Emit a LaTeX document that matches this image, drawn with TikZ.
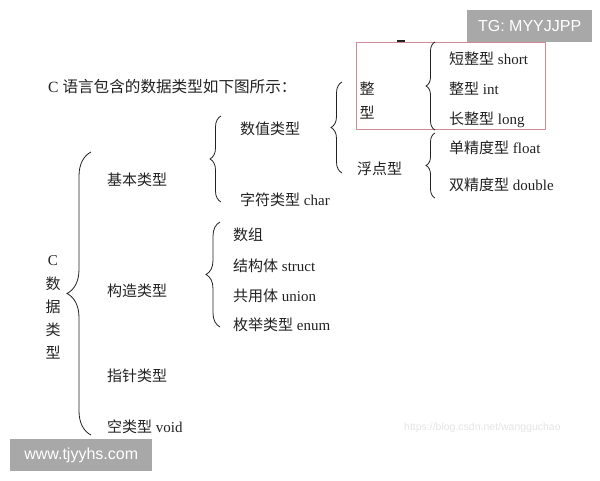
\documentclass[tikz,border=0pt]{standalone}
\usepackage{fontspec}
\setmainfont{Liberation Serif}
\newfontfamily\cjk{Noto Sans CJK SC}
\newfontfamily\wmfont{Liberation Sans}
\usetikzlibrary{decorations.pathreplacing}
\newcommand{\zh}[1]{{\cjk #1}}
\definecolor{ink}{HTML}{222222}
\definecolor{pinkbox}{HTML}{CF8A98}
\definecolor{wmgray}{HTML}{A8A8A8}
\begin{document}
\begin{tikzpicture}[x=1pt,y=-1pt,
  lbl/.style={anchor=west,inner sep=0pt,text=ink,font=\fontsize{15}{15}\selectfont,text height=13.2pt,text depth=1.8pt},
  vch/.style={anchor=center,inner sep=0pt,text=ink,font=\fontsize{15}{15}\selectfont\cjk},
  brc/.style={draw=ink,line width=0.8pt,decorate,decoration={brace,amplitude=#1}},
  brc/.default=10,
  wm/.style={fill=wmgray,text=white,font=\wmfont\fontsize{16}{16}\selectfont,inner sep=0pt,minimum height=32pt}
]
\useasboundingbox (0,0) rectangle (600,480);
\fill[white] (0,0) rectangle (600,480);

% watermark boxes
\node[wm,minimum width=125pt,anchor=north west] (tg) at (467,10) {TG: MYYJJPP};
\node[wm,minimum width=142pt,anchor=north west] (www) at (10,439) {www.tjyyhs.com};
\node[anchor=west,inner sep=0pt,text=black!10,font=\wmfont\fontsize{10.5}{10.5}\selectfont] (csdn) at (404,428) {https://blog.csdn.net/wangguchao};

% title
\node[lbl,font=\fontsize{15.6}{15.6}\selectfont] (title) at (48,87) {C \zh{语言包含的数据类型如下图所示：}};

% root vertical label
\node[vch] (rc) at (53,261) {\normalfont C};
\node[vch] (r1) at (53,284) {数};
\node[vch] (r2) at (53,307) {据};
\node[vch] (r3) at (53,330) {类};
\node[vch] (r4) at (53,353) {型};

% level 1
\node[lbl] (basic) at (107,180) {\zh{基本类型}};
\node[lbl] (constr) at (107,291) {\zh{构造类型}};
\node[lbl] (ptr) at (107,376) {\zh{指针类型}};
\node[lbl] (void) at (107,427) {\zh{空类型} void};

% level 2
\node[lbl] (num) at (240,129) {\zh{数值类型}};
\node[lbl] (char) at (240,200) {\zh{字符类型} char};
\node[lbl] (arr) at (233,235) {\zh{数组}};
\node[lbl] (struct) at (233,266) {\zh{结构体} struct};
\node[lbl] (union) at (233,296) {\zh{共用体} union};
\node[lbl] (enum) at (233,325) {\zh{枚举类型} enum};

% level 3
\node[vch] (int1) at (367,89) {整};
\node[vch] (int2) at (367,113) {型};
\node[lbl] (float) at (357,169) {\zh{浮点型}};

% level 4
\node[lbl] (short) at (449,59) {\zh{短整型} short};
\node[lbl] (int) at (449,89) {\zh{整型} int};
\node[lbl] (long) at (449,119) {\zh{长整型} long};
\node[lbl] (sgl) at (449,148) {\zh{单精度型} float};
\node[lbl] (dbl) at (449,185) {\zh{双精度型} double};

% pink highlight box
\draw[pinkbox,line width=1pt] (356,42) rectangle (545,129);
\draw[ink,line width=1.6pt] (397,41) -- (405,41);

% braces (drawn bottom to top so the tip points left)
\coordinate (b0a) at (91,435); \coordinate (b0b) at (91,152);
\draw[brc=24] (b0a) -- (b0b);
\coordinate (b1a) at (221,202); \coordinate (b1b) at (221,116);
\draw[brc=11] (b1a) -- (b1b);
\coordinate (b2a) at (220,327); \coordinate (b2b) at (220,222);
\draw[brc=14] (b2a) -- (b2b);
\coordinate (b3a) at (342,173); \coordinate (b3b) at (342,82);
\draw[brc=11] (b3a) -- (b3b);
\coordinate (b4a) at (435,130); \coordinate (b4b) at (435,42);
\draw[brc=9] (b4a) -- (b4b);
\coordinate (b5a) at (435,198); \coordinate (b5b) at (435,133);
\draw[brc=9] (b5a) -- (b5b);
\end{tikzpicture}
\end{document}
